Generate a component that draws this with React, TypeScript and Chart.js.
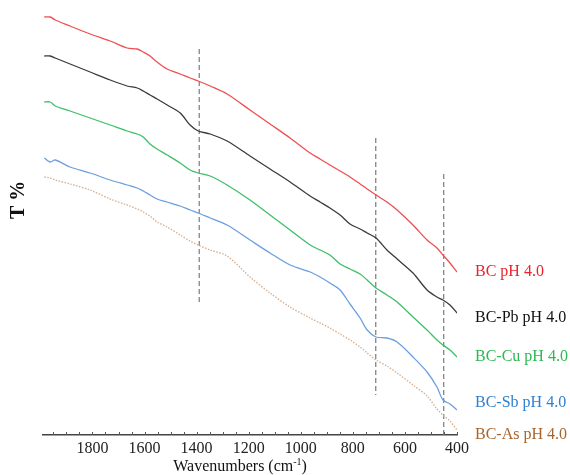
import { useEffect, useRef } from "react";
import { Chart, registerables } from "chart.js";
Chart.register(...registerables);

// Wavenumbers (cm-1) sampled along every spectrum
const wavenumbers = [1985, 1962, 1943, 1886, 1809, 1732, 1667, 1628, 1605, 1579, 1552, 1513, 1463, 1425, 1394, 1348, 1283, 1195, 1118, 1041, 964, 926, 888, 849, 811, 772, 745, 711, 669, 630, 569, 515, 477, 454, 427, 400];

// Transmittance (arbitrary, offset) for each spectrum
const bcValues = [418, 418, 415, 409, 401, 394, 387, 386, 383, 379, 373, 366, 361, 357, 354, 349, 341, 325, 311, 297, 282, 276, 270, 264, 258, 251, 246, 240, 233, 225, 210, 195, 187, 180, 172, 163];
const bcPbValues = [379, 379, 377, 371, 363, 355, 349, 347, 344, 340, 336, 330, 322, 310, 304, 301, 294, 279, 266, 253, 239, 233, 227, 220, 211, 206, 202, 197, 185, 176, 162, 145, 138, 135, 130, 122];
const bcCuValues = [333, 333, 329, 324, 317, 310, 304, 301, 298, 291, 286, 280, 272, 265, 262, 259, 250, 235, 220, 205, 190, 185, 180, 171, 166, 161, 155, 147, 140, 133, 118, 105, 95, 90, 85, 78];
const bcSbValues = [277, 273, 275, 268, 262, 255, 250, 247, 244, 240, 236, 233, 229, 225, 222, 217, 210, 195, 182, 170, 163, 158, 152, 145, 131, 117, 105, 98, 97, 93, 78, 63, 48, 35, 31, 25];
const bcAsValues = [258, 257, 255, 251, 245, 236, 230, 226, 223, 219, 213, 208, 200, 194, 190, 185, 179, 158, 142, 128, 117, 112, 107, 101, 95, 88, 82, 75, 69, 62, 50, 39, 26, 20, 14, 5];

const seriesLabels = ["BC pH 4.0", "BC-Pb pH 4.0", "BC-Cu pH 4.0", "BC-Sb pH 4.0", "BC-As pH 4.0"];
const xTickValues = [1800, 1600, 1400, 1200, 1000, 800, 600, 400];

// Vertical reference lines
const markerWavenumbers = [1390, 712, 451];
const markerTops = [386, 297, 261];
const markerBottoms = [130, 40, 0];

const lineColors = ["#ef4f52", "#3b3b3b", "#3dbf68", "#6b9fe0", "#d8b092"];
const labelColors = ["#e8242c", "#111111", "#2db852", "#2f7fd2", "#a9642c"];
const labelShift = [0, 5, 0, -7, 5];
const SERIF = '"Liberation Serif", "Times New Roman", serif';

const overlayPlugin = {
  id: "overlay",
  afterDraw(chart: any) {
    const { ctx, chartArea, scales } = chart;
    const xs = scales.x;
    const ys = scales.y;
    ctx.save();
    // minor ticks pointing upward
    ctx.strokeStyle = "#555";
    ctx.lineWidth = 1;
    for (let v = 400; v <= 1950; v += 50) {
      const px = Math.round(xs.getPixelForValue(v)) + 0.5;
      ctx.beginPath();
      ctx.moveTo(px, chartArea.bottom);
      ctx.lineTo(px, chartArea.bottom - 3);
      ctx.stroke();
    }
    // y title
    ctx.save();
    ctx.translate(19, chartArea.top + (chartArea.bottom - chartArea.top) * 0.44);
    ctx.rotate(-Math.PI / 2);
    ctx.font = `bold 20px ${SERIF}`;
    ctx.fillStyle = "#111";
    ctx.textAlign = "center";
    ctx.textBaseline = "middle";
    ctx.fillText("T %", 0, 0);
    ctx.restore();
    // x title with superscript
    const main = "Wavenumbers (cm";
    const sup = "-1";
    const end = ")";
    ctx.fillStyle = "#111";
    ctx.textBaseline = "alphabetic";
    ctx.textAlign = "left";
    ctx.font = `16px ${SERIF}`;
    const w1 = ctx.measureText(main).width;
    const w3 = ctx.measureText(end).width;
    ctx.font = `10px ${SERIF}`;
    const w2 = ctx.measureText(sup).width;
    const total = w1 + w2 + w3;
    const cx = chartArea.left + (chartArea.right - chartArea.left) * 0.476;
    const baseY = 471;
    const x0 = cx - total / 2;
    ctx.font = `16px ${SERIF}`;
    ctx.fillText(main, x0, baseY);
    ctx.font = `10px ${SERIF}`;
    ctx.fillText(sup, x0 + w1, baseY - 6);
    ctx.font = `16px ${SERIF}`;
    ctx.fillText(end, x0 + w1 + w2, baseY);
    // series labels
    const allSeries = [bcValues, bcPbValues, bcCuValues, bcSbValues, bcAsValues];
    ctx.font = `16px ${SERIF}`;
    ctx.textAlign = "left";
    ctx.textBaseline = "middle";
    allSeries.forEach((vals, i) => {
      const y = ys.getPixelForValue(vals[vals.length - 1]) + labelShift[i];
      ctx.fillStyle = labelColors[i];
      ctx.fillText(seriesLabels[i], chartArea.right + 18, y);
    });
    ctx.restore();
  },
};

export default function App() {
  const ref = useRef<HTMLCanvasElement | null>(null);
  useEffect(() => {
    if (!ref.current) return;
    const allSeries = [bcValues, bcPbValues, bcCuValues, bcSbValues, bcAsValues];
    const datasets: any[] = allSeries.map((vals, i) => ({
      label: seriesLabels[i],
      data: wavenumbers.map((w, j) => ({ x: w, y: vals[j] })),
      borderColor: lineColors[i],
      borderWidth: i === 4 ? 1.4 : 1.3,
      borderDash: i === 4 ? [1.5, 1.5] : [],
      pointRadius: 0,
      tension: 0.3,
      fill: false,
    }));
    markerWavenumbers.forEach((w, i) => {
      datasets.push({
        label: "marker" + i,
        data: [
          { x: w, y: markerTops[i] },
          { x: w, y: markerBottoms[i] },
        ],
        borderColor: "#7a7a7a",
        borderWidth: 1.2,
        borderDash: [5, 3],
        pointRadius: 0,
        fill: false,
      });
    });
    const chart = new Chart(ref.current, {
      type: "line",
      data: { datasets },
      options: {
        animation: false,
        responsive: false,
        maintainAspectRatio: false,
        layout: { padding: { left: 43, right: 113, top: 15, bottom: 0 } },
        plugins: { legend: { display: false }, tooltip: { enabled: false } },
        scales: {
          x: {
            type: "linear",
            reverse: true,
            min: 400,
            max: 1990,
            afterBuildTicks: (s: any) => {
              s.ticks = xTickValues.map((v) => ({ value: v }));
            },
            afterFit: (s: any) => {
              s.height = 40;
            },
            grid: { display: false, drawTicks: false },
            border: { display: true, color: "#444", width: 1.5 },
            ticks: {
              color: "#222",
              font: { family: SERIF, size: 16 },
              padding: 4,
              maxRotation: 0,
              autoSkip: false,
              callback: (v: any) => String(v),
            },
          },
          y: { display: false, min: 0, max: 420 },
        },
      },
      plugins: [overlayPlugin],
    });
    return () => chart.destroy();
  }, []);
  return (
    <div style={{ position: "fixed", left: 0, top: 0, width: 570, height: 475, background: "#fff" }}>
      <canvas ref={ref} width={570} height={475} style={{ width: 570, height: 475, display: "block" }} />
    </div>
  );
}
